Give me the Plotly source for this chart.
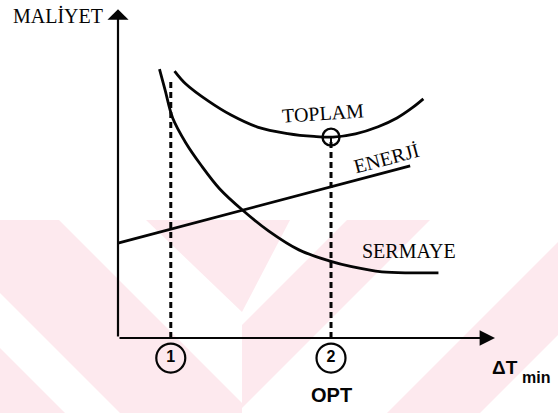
import plotly.graph_objects as go

# ---------------- data (arbitrary units) ----------------
# horizontal: ΔTmin (0..100), vertical: MALİYET (0..100)
sermaye_x = [11, 12.5, 14.5, 18, 22, 27, 33, 40, 48, 56, 62, 70, 78, 85]
sermaye_y = [83.0, 76.5, 67.9, 60.2, 53.4, 46.0, 39.5, 33.0, 27.2, 23.8, 22.0, 20.4, 20.1, 20.1]

toplam_x = [15, 18, 24, 30, 37, 45, 52, 57, 63, 69, 74, 78, 81]
toplam_y = [82.4, 78.4, 73.1, 68.8, 65.1, 63.1, 62.2, 62.0, 63.0, 65.2, 67.9, 71.0, 73.8]

enerji_x = [0, 77.5]
enerji_y = [29.3, 53.1]

mark_x = [14, 56.5]          # the two ΔTmin points
mark_labels = ["1", "2"]
mark_tops = [80.2, 62.0]     # where the dashed guides start
opt_x = 56.5
opt_y = 62.0

axis_x_end = 100
axis_y_end = 101.5

# ---------------- layout helpers ----------------
W, H = 558, 413
X_RANGE = [-31.30, 116.71]
Y_RANGE = [-23.15, 104.32]
LABEL_Y = -6.2
INK = "#050505"
PINK = "rgb(253,233,238)"
SERIF = "Liberation Serif, Times New Roman, serif"
SANS = "Liberation Sans, Arial, sans-serif"


def pix_path(points):
    """Watermark polygon given in screen pixels -> SVG path in paper coords."""
    parts = []
    for i, (px, py) in enumerate(points):
        parts.append(("M" if i == 0 else "L") + f"{px / W:.5f},{1 - py / H:.5f}")
    return " ".join(parts) + " Z"


# faint chevron watermark of the scanned page (screen-pixel geometry)
watermark = [
    [(146, 220), (290, 220), (242, 312)],
    [(0, 220), (59, 220), (242, 403), (242, 413), (120, 413), (0, 293)],
    [(347, 220), (430, 220), (242, 408), (242, 325)],
    [(0, 348), (0, 413), (65, 413)],
    [(387, 413), (480, 413), (558, 335), (558, 242)],
]

fig = go.Figure()

# dashed guides
for mx, top in zip(mark_x, mark_tops):
    fig.add_trace(go.Scatter(x=[mx, mx], y=[0, top], mode="lines",
                             line=dict(color=INK, width=3, dash="6px,4px"),
                             hoverinfo="skip"))

# curves
fig.add_trace(go.Scatter(x=enerji_x, y=enerji_y, mode="lines",
                         line=dict(color=INK, width=2.8), name="ENERJİ"))
fig.add_trace(go.Scatter(x=sermaye_x, y=sermaye_y, mode="lines",
                         line=dict(color=INK, width=2.8, shape="spline", smoothing=1.0),
                         name="SERMAYE"))
fig.add_trace(go.Scatter(x=toplam_x, y=toplam_y, mode="lines",
                         line=dict(color=INK, width=2.8, shape="spline", smoothing=1.0),
                         name="TOPLAM"))

# optimum marker
fig.add_trace(go.Scatter(x=[opt_x, opt_x], y=[opt_y, opt_y - 2.5], mode="lines",
                         line=dict(color=INK, width=2), hoverinfo="skip"))
fig.add_trace(go.Scatter(x=[opt_x], y=[opt_y], mode="markers",
                         marker=dict(symbol="circle-open", size=17, color=INK,
                                     line=dict(color=INK, width=2.4)),
                         hoverinfo="skip"))

# numbered circles
fig.add_trace(go.Scatter(x=mark_x, y=[LABEL_Y] * len(mark_x), mode="markers+text",
                         text=[f"<b>{t}</b>" for t in mark_labels], textposition="middle center",
                         textfont=dict(family=SANS, size=16, color=INK),
                         marker=dict(symbol="circle-open", size=29, color=INK,
                                     line=dict(color=INK, width=2.2)),
                         hoverinfo="skip"))

annotations = [
    # axes with arrow heads
    dict(x=0, y=axis_y_end, ax=0, ay=0, xref="x", yref="y", axref="x", ayref="y",
         showarrow=True, arrowhead=1, arrowsize=1.6, arrowwidth=2.2, arrowcolor=INK, text=""),
    dict(x=axis_x_end, y=0, ax=0, ay=0, xref="x", yref="y", axref="x", ayref="y",
         showarrow=True, arrowhead=2, arrowsize=1.4, arrowwidth=2.2, arrowcolor=INK, text=""),
    dict(x=-16, y=99.4, text="MALİYET", font=dict(family=SERIF, size=20, color=INK)),
    dict(x=54.4, y=69.4, text="TOPLAM", textangle=-4, font=dict(family=SERIF, size=20, color=INK)),
    dict(x=71.35, y=55.6, text="ENERJİ", textangle=-15, font=dict(family=SERIF, size=20, color=INK)),
    dict(x=77.2, y=26.85, text="SERMAYE", font=dict(family=SERIF, size=20, color=INK)),
    dict(x=56.5, y=-17.6, text="<b>OPT</b>", font=dict(family=SANS, size=20, color=INK)),
    dict(x=102.65, y=-9.0, text="<b>ΔT</b>", font=dict(family=SANS, size=19, color=INK)),
    dict(x=106.6, y=-12.3, xanchor="left", text="<b>min</b>", font=dict(family=SANS, size=16, color=INK)),
]
for a in annotations:
    a.setdefault("showarrow", False)
    a.setdefault("xref", "x")
    a.setdefault("yref", "y")

fig.update_layout(
    width=W, height=H, autosize=False,
    margin=dict(l=0, r=0, t=0, b=0),
    paper_bgcolor="white", plot_bgcolor="rgba(0,0,0,0)",
    showlegend=False,
    xaxis=dict(range=X_RANGE, visible=False, fixedrange=True),
    yaxis=dict(range=Y_RANGE, visible=False, fixedrange=True),
    annotations=annotations,
    shapes=[dict(type="path", path=pix_path(p), xref="paper", yref="paper",
                 fillcolor=PINK, line=dict(width=0), layer="below") for p in watermark],
)

fig.write_html("out.html", config={"displayModeBar": False},
               post_script="document.body.style.margin='0';document.body.style.overflow='hidden';")
